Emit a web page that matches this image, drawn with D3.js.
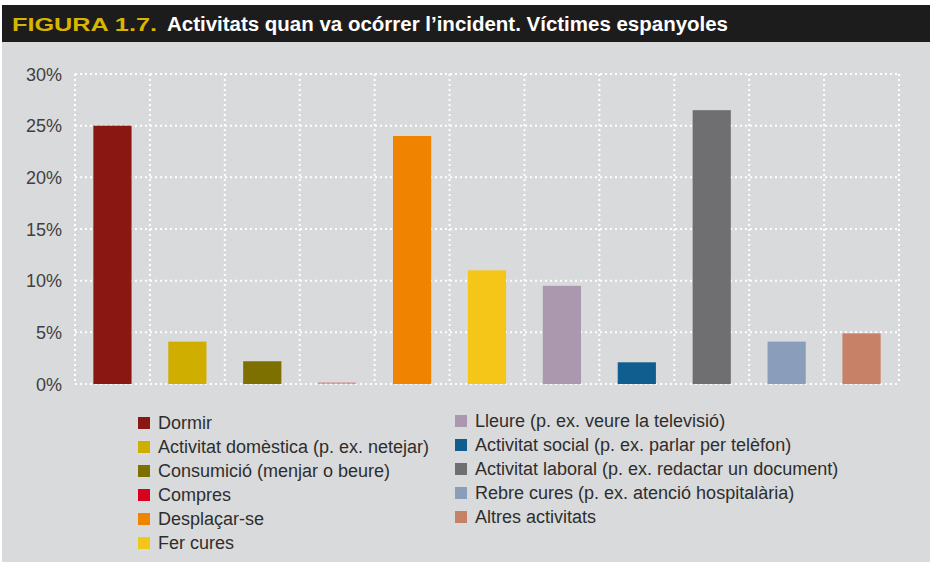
<!DOCTYPE html>
<html>
<head>
<meta charset="utf-8">
<script src="https://cdn.jsdelivr.net/npm/d3@7"></script>
<style>
  body { margin: 0; background: #fff; }
  text { font-family: "Liberation Sans", Arial, sans-serif; }
</style>
</head>
<body>
<svg id="chart" width="933" height="562"></svg>
<script>
var categories = ["Dormir", "Activitat domèstica (p. ex. netejar)", "Consumició (menjar o beure)", "Compres",
  "Desplaçar-se", "Fer cures", "Lleure (p. ex. veure la televisió)", "Activitat social (p. ex. parlar per telèfon)",
  "Activitat laboral (p. ex. redactar un document)", "Rebre cures (p. ex. atenció hospitalària)", "Altres activitats"];
var values = [25, 4.1, 2.2, 0.15, 24, 11, 9.5, 2.1, 26.5, 4.1, 4.9];
var colors = ["#8b1713", "#cfae00", "#7d6f00", "#d9001b", "#f08300", "#f5c518", "#ab98ae", "#0f5e8f", "#6f6f71", "#8a9dbb", "#c68166"];
var yTicks = [0, 5, 10, 15, 20, 25, 30];

var svg = d3.select("#chart"),
    plot = { left: 75, right: 899, top: 74, bottom: 384 };

// fons i capçalera
svg.append("rect").attr("x", 2).attr("y", 5).attr("width", 928).attr("height", 557).attr("fill", "#d9dadb");
svg.append("rect").attr("x", 2).attr("y", 5).attr("width", 928).attr("height", 37).attr("fill", "#1d1c1d");
svg.append("text").attr("x", 12).attr("y", 31).text("FIGURA 1.7.")
  .attr("fill", "#d8b600").attr("font-family", "'DejaVu Sans Mono', monospace")
  .attr("font-weight", "bold").attr("font-size", 18)
  .attr("textLength", 145).attr("lengthAdjust", "spacingAndGlyphs");
svg.append("text").attr("x", 167).attr("y", 31).text("Activitats quan va ocórrer l’incident. Víctimes espanyoles")
  .attr("fill", "#fff").attr("font-weight", "bold").attr("font-size", 20)
  .attr("textLength", 561).attr("lengthAdjust", "spacingAndGlyphs");

var x = d3.scaleBand().domain(categories).range([plot.left, plot.right]).paddingInner(0.49).paddingOuter(0.245);
var xGrid = d3.scaleLinear().domain([0, categories.length]).range([plot.left, plot.right]);
var y = d3.scaleLinear().domain([0, 30]).range([plot.bottom, plot.top]);

// graella puntejada
var grid = svg.append("g").attr("stroke", "#fff").attr("stroke-width", 2).attr("stroke-dasharray", "2,3");
grid.selectAll("line.h")
  .data(yTicks)
  .enter().append("line")
  .attr("x1", plot.left).attr("x2", plot.right)
  .attr("y1", function(d) { return y(d); }).attr("y2", function(d) { return y(d); });
grid.selectAll("line.v")
  .data(d3.range(categories.length + 1))
  .enter().append("line")
  .attr("x1", function(d) { return xGrid(d); }).attr("x2", function(d) { return xGrid(d); })
  .attr("y1", plot.top).attr("y2", plot.bottom);

// barres (per sobre de la graella)
svg.append("g").selectAll("rect")
  .data(values)
  .enter().append("rect")
  .attr("x", function(d, i) { return x(categories[i]); })
  .attr("width", x.bandwidth())
  .attr("y", function(d) { return y(d); })
  .attr("height", function(d) { return y(0) - y(d); })
  .attr("fill", function(d, i) { return colors[i]; })
  .attr("fill-opacity", function(d) { return d < 1 ? 0.35 : 1; });

// eix Y
var yAxis = svg.append("g")
  .attr("transform", "translate(" + (plot.left - 13) + ",0)")
  .call(d3.axisLeft(y).tickValues(yTicks).tickSize(0).tickPadding(0).tickFormat(function(d) { return d + "%"; }));
yAxis.select(".domain").remove();
yAxis.selectAll("text").attr("font-size", 18).attr("fill", "#404040")
  .attr("font-family", "'Liberation Sans', Arial, sans-serif").attr("dy", "0.35em");

// llegenda
var legendCols = [
  { items: d3.range(0, 6), x: 138, y: 423 },
  { items: d3.range(6, 11), x: 455, y: 421 }
];
legendCols.forEach(function(col) {
  var g = svg.append("g");
  var row = g.selectAll("g").data(col.items).enter().append("g")
    .attr("transform", function(d, j) { return "translate(" + col.x + "," + (col.y + j * 24) + ")"; });
  row.append("rect").attr("x", 0).attr("y", -6).attr("width", 12).attr("height", 12)
    .attr("fill", function(d) { return colors[d]; });
  row.append("text").attr("x", 20).attr("dy", "0.36em")
    .attr("font-size", 18).attr("fill", "#2e2e2e")
    .text(function(d) { return categories[d]; });
});
</script>
</body>
</html>
